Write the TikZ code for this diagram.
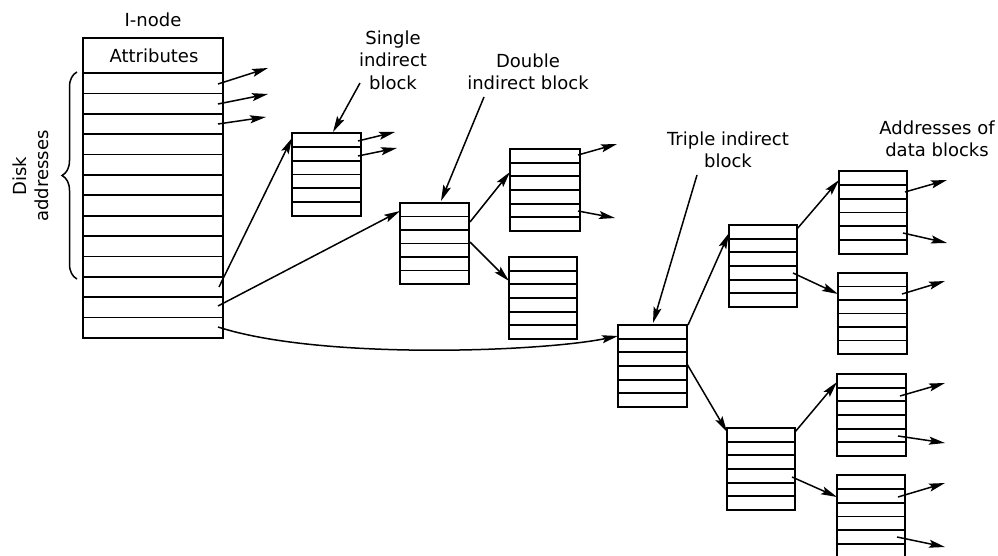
\documentclass[tikz,border=0pt]{standalone}
\usepackage{fontspec}
\setmainfont{DejaVu Sans}
\usetikzlibrary{calc,arrows.meta,decorations.pathreplacing}
\tikzset{
  blk/.style={draw, line width=2.5pt, inner sep=0pt, outer sep=0pt, anchor=north west},
  rowline/.style={line width=1.7pt},
  arr/.style={line width=1.5pt, -{Stealth[length=16pt,width=8pt,inset=3pt]}},
  lbl/.style={align=center, font=\fontsize{18}{22.5}\selectfont, inner sep=0pt},
}
\newcommand\drawblock[6]{%
  \node[blk, minimum width=#4pt, minimum height=#5pt] (#1) at (#2,#3) {};
  \pgfmathtruncatemacro\nlines{#6-1}%
  \foreach \k in {1,...,\nlines}{%
    \draw[rowline] ($(#1.north west)!\k/#6!(#1.south west)$) -- ($(#1.north east)!\k/#6!(#1.south east)$);
  }%
}
\begin{document}
\begin{tikzpicture}[x=1pt,y=-1pt]
\useasboundingbox (0,0) rectangle (998,556);

% I-node
\node[blk, minimum width=140pt, minimum height=300pt] (inode) at (83,38) {};
\foreach \k in {0,...,12}{%
  \draw[rowline] ($(inode.north west)+(0,35+\k*20.385)$) -- ($(inode.north east)+(0,35+\k*20.385)$);
}
\node[lbl] (attr) at (154,56) {Attributes};
\node[lbl] (inodelbl) at (153,20) {I-node};
\draw[line width=1.5pt, decorate, decoration={brace, amplitude=15pt}] (77,279) -- (77,72);
\node[lbl, rotate=90] (disklbl) at (31,176) {Disk\\addresses};

% blocks
\drawblock{single}{292}{133}{69}{83}{6}
\drawblock{double}{400}{203}{69}{81}{6}
\drawblock{du}{510}{149}{70}{82}{6}
\drawblock{dl}{509}{257}{68}{82}{6}
\drawblock{triple}{618}{325}{69}{82}{6}
\drawblock{mu}{729}{225}{68}{82}{6}
\drawblock{ml}{727}{428}{68}{82}{6}
\drawblock{da}{839}{171}{68}{83}{6}
\drawblock{db}{838}{273}{69}{81}{6}
\drawblock{dc}{837}{374}{69}{82}{6}
\drawblock{dd}{837}{475}{68}{83}{6}

% labels
\node[lbl] (singlelbl) at (393,60) {Single\\indirect\\block};
\node[lbl] (doublelbl) at (528,72) {Double\\indirect block};
\node[lbl] (triplelbl) at (728,150) {Triple indirect\\block};
\node[lbl] (datalbl) at (937,139) {Addresses of\\data blocks};

% label arrows
\coordinate (sl) at (360,83);
\coordinate (dlb) at (484,97);
\coordinate (tl) at (697,175);
\draw[arr] (sl) -- ($(single.north west)+(41,-1)$);
\draw[arr] (dlb) -- ($(double.north west)+(41,-2)$);
\draw[arr] (tl) -- ($(triple.north west)+(35,-2)$);

% I-node direct arrows
\coordinate (i1) at (218,84);  \coordinate (o1) at (268,68);
\coordinate (i2) at (218,104); \coordinate (o2) at (268,94);
\coordinate (i3) at (218,124); \coordinate (o3) at (266,117);
\draw[arr] (i1) -- (o1);
\draw[arr] (i2) -- (o2);
\draw[arr] (i3) -- (o3);

% I-node indirect arrows
\coordinate (i11) at (219,287);
\coordinate (i12) at (218,306);
\coordinate (i13) at (218,327);
\draw[arr] (i11) -- ($(single.north west)+(0,5)$);
\draw[arr] (i12) -- ($(double.north west)+(0,8)$);
\draw[arr] (i13) .. controls (320,360) and (540,352) .. ($(triple.north west)+(0,11)$);

% single out
\coordinate (s1) at (358,141); \coordinate (so1) at (395,132);
\coordinate (s2) at (358,156); \coordinate (so2) at (397,148);
\draw[arr] (s1) -- (so1);
\draw[arr] (s2) -- (so2);

% double
\coordinate (d1) at (470,222);
\coordinate (d2) at (470,242);
\draw[arr] (d1) -- ($(du.north west)+(0,23)$);
\draw[arr] (d2) -- ($(dl.north west)+(0,24)$);
\coordinate (u1) at (578,155); \coordinate (uo1) at (617,144);
\coordinate (u2) at (578,211); \coordinate (uo2) at (615,218);
\draw[arr] (u1) -- (uo1);
\draw[arr] (u2) -- (uo2);

% triple
\coordinate (t1) at (688,325);
\coordinate (t2) at (687,364);
\draw[arr] (t1) -- ($(mu.north west)+(0,8)$);
\draw[arr] (t2) -- ($(ml.north west)+(0,4)$);
\coordinate (m1) at (797,229);
\coordinate (m2) at (793,273);
\coordinate (m3) at (795,432);
\coordinate (m4) at (792,477);
\draw[arr] (m1) -- ($(da.north west)+(0,9)$);
\draw[arr] (m2) -- ($(db.north west)+(0,21)$);
\draw[arr] (m3) -- ($(dc.north west)+(0,8)$);
\draw[arr] (m4) -- ($(dd.north west)+(0,22)$);

% data block out arrows
\coordinate (a1) at (905,192); \coordinate (ao1) at (947,180);
\coordinate (a2) at (903,233); \coordinate (ao2) at (947,243);
\coordinate (b1) at (902,294); \coordinate (bo1) at (945,281);
\coordinate (c1) at (900,396); \coordinate (co1) at (945,383);
\coordinate (c2) at (898,436); \coordinate (co2) at (945,443);
\coordinate (e1) at (898,497); \coordinate (eo1) at (945,483);
\coordinate (e2) at (897,537); \coordinate (eo2) at (945,547);
\draw[arr] (a1) -- (ao1);
\draw[arr] (a2) -- (ao2);
\draw[arr] (b1) -- (bo1);
\draw[arr] (c1) -- (co1);
\draw[arr] (c2) -- (co2);
\draw[arr] (e1) -- (eo1);
\draw[arr] (e2) -- (eo2);
\end{tikzpicture}
\end{document}
